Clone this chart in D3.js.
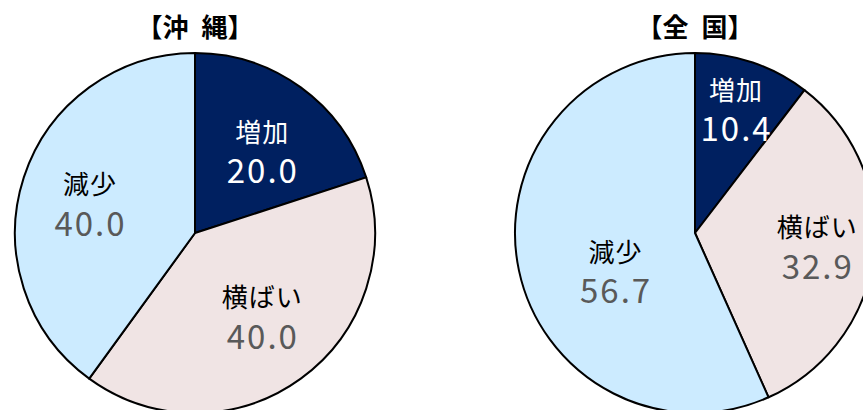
<!DOCTYPE html>
<html><head><meta charset="utf-8">
<script src="https://cdn.jsdelivr.net/npm/d3@7"></script>
<style>body{margin:0;background:#fff;} svg{display:block;}</style>
</head><body>
<svg id="c" width="863" height="410"></svg>
<script>
const categories = ["増加", "横ばい", "減少"];
const titles = ["【沖 縄】", "【全 国】"];
const okinawaValues = [20.0, 40.0, 40.0];
const nationalValues = [10.4, 32.9, 56.7];

const colors = ["#002060", "#F0E4E4", "#CCEBFF"];
const catColors = ["#ffffff", "#000000", "#000000"];
const valColors = ["#ffffff", "#595959", "#595959"];
// label placement: [radius fraction, angle in degrees from 12 o'clock]
const labelLayout = [
  [[0.59, 39], [0.59, 141], [0.61, 286]],
  [[0.73, 18], [0.68, 96], [0.49, 245]]
];
const R = 180, CY = 233;
const centersX = [195, 695];
const font = "'Noto Sans CJK JP', 'Noto Sans', sans-serif";

const svg = d3.select("#c");
const pie = d3.pie().sort(null).value(d => d);
const arc = d3.arc().innerRadius(0).outerRadius(R);

[okinawaValues, nationalValues].forEach((vals, i) => {
  const g = svg.append("g").attr("transform", `translate(${centersX[i]},${CY})`);
  const arcs = pie(vals);
  g.selectAll("path").data(arcs).join("path")
    .attr("d", arc)
    .attr("fill", (d, j) => colors[j])
    .attr("stroke", "#000").attr("stroke-width", 2).attr("stroke-linejoin", "round");
  arcs.forEach((d, j) => {
    const [rf, ang] = labelLayout[i][j];
    const a = ang * Math.PI / 180;
    const x = Math.sin(a) * R * rf, y = -Math.cos(a) * R * rf;
    g.append("text").attr("x", x + 0.5).attr("y", y - 20)
      .attr("text-anchor", "middle").attr("dominant-baseline", "central")
      .attr("font-family", font).attr("font-size", 26).attr("letter-spacing", 1)
      .attr("fill", catColors[j]).text(categories[j]);
    g.append("text").attr("x", x + 1).attr("y", y + 19)
      .attr("text-anchor", "middle").attr("dominant-baseline", "central")
      .attr("font-family", font).attr("font-size", 33).attr("letter-spacing", 2)
      .attr("fill", valColors[j]).text(d3.format(".1f")(vals[j]));
  });
  svg.append("text").attr("x", centersX[i]).attr("y", 25)
    .attr("text-anchor", "middle").attr("dominant-baseline", "central")
    .attr("font-family", font).attr("font-size", 26).attr("font-weight", "bold")
    .attr("fill", "#000").text(titles[i].replace(" ", "\u2002"));
});
</script>
</body></html>
